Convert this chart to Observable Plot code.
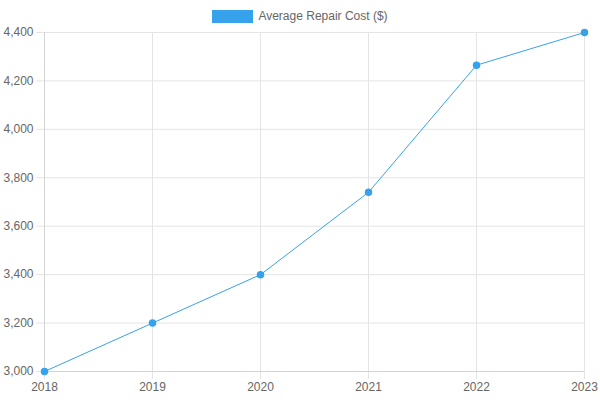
<!DOCTYPE html>
<html>
<head>
<meta charset="utf-8">
<script src="https://cdn.jsdelivr.net/npm/d3@7"></script>
<script src="https://cdn.jsdelivr.net/npm/@observablehq/plot@0.6"></script>
<style>
  html, body { margin: 0; padding: 0; background: #fff; }
  #wrap { position: relative; width: 600px; height: 400px; font-family: "Liberation Sans", Arial, Helvetica, sans-serif; }
  #legend { position: absolute; top: 9px; left: 0; width: 600px; display: flex; justify-content: center; align-items: center; font-size: 12px; color: #666; }
  #legend .box { width: 41px; height: 13px; background: #36a2eb; margin-right: 5px; }
</style>
</head>
<body>
<div id="wrap">
  <div id="legend"><span class="box"></span><span id="legendLabel"></span></div>
</div>
<script>
const seriesName = "Average Repair Cost ($)";
const years = [2018, 2019, 2020, 2021, 2022, 2023];
const costs = [3000, 3200, 3400, 3740, 4265, 4400];
const yTicks = [3000, 3200, 3400, 3600, 3800, 4000, 4200, 4400];

const data = years.map((y, i) => ({year: y, cost: costs[i]}));
document.getElementById("legendLabel").textContent = seriesName;

const grid = "#e4e4e4";
const chart = Plot.plot({
  width: 600,
  height: 400,
  marginLeft: 44,
  marginRight: 16,
  marginTop: 32,
  marginBottom: 29,
  style: {fontFamily: "'Liberation Sans', Arial, Helvetica, sans-serif", fontSize: "12px", background: "transparent", overflow: "visible"},
  x: {domain: [2018, 2023], axis: null},
  y: {domain: [3000, 4400], axis: null},
  marks: [
    Plot.gridX(years, {stroke: grid, strokeOpacity: 1}),
    Plot.gridY(yTicks, {stroke: grid, strokeOpacity: 1}),
    Plot.axisX(years, {tickSize: 8, stroke: grid, strokeOpacity: 1, fill: "#666", tickPadding: 3, tickFormat: d => String(d), fontSize: 12, label: null}),
    Plot.axisY(yTicks, {tickSize: 8, stroke: grid, strokeOpacity: 1, fill: "#666", tickPadding: 3, tickFormat: d3.format(","), fontSize: 12, label: null}),
    Plot.ruleY([3000], {stroke: "#d4d4d4"}),
    Plot.ruleX([2018], {stroke: "#d4d4d4"}),
    Plot.line(data, {x: "year", y: "cost", stroke: "#36a2eb", strokeWidth: 1}),
    Plot.dot(data, {x: "year", y: "cost", r: 3, fill: "#36a2eb", stroke: "#36a2eb"})
  ]
});
document.getElementById("wrap").appendChild(chart);
</script>
</body>
</html>
